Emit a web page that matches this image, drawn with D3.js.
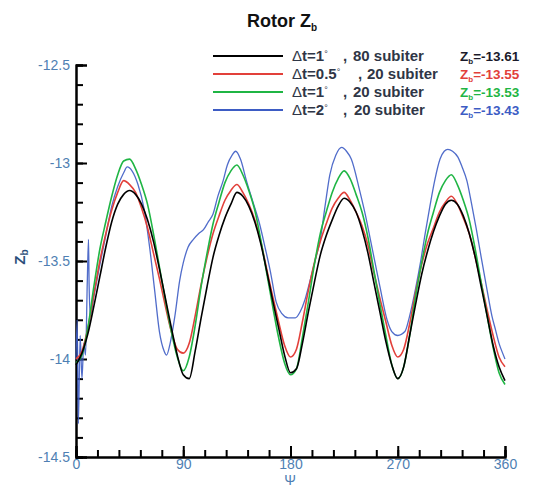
<!DOCTYPE html>
<html>
<head>
<meta charset="utf-8">
<script src="https://cdn.jsdelivr.net/npm/d3@7/dist/d3.min.js"></script>
<style>
  html, body { margin: 0; padding: 0; background: #fff; }
  svg { display: block; }
  text { font-family: "Liberation Sans", Arial, sans-serif; }
</style>
</head>
<body>
<svg id="chart" width="541" height="487"></svg>
<script>
// ---------- data ----------
const psi = [0,5,10,15,20,25,30,35,40,45,50,55,60,65,70,75,80,85,90,95,
  100,105,110,115,120,125,130,135,140,145,150,155,160,165,170,175,180,
  185,190,195,200,205,210,215,220,225,230,235,240,245,250,255,260,265,270,
  275,280,285,290,295,300,305,310,315,320,325,330,335,340,345,350,355,360];

const black80 = [-14.03,-13.97,-13.87,-13.73,-13.58,-13.43,-13.30,-13.21,-13.16,-13.14,
  -13.16,-13.21,-13.29,-13.40,-13.54,-13.69,-13.84,-13.98,-14.08,-14.10,
  -13.96,-13.79,-13.63,-13.48,-13.37,-13.28,-13.21,-13.15,
  -13.17,-13.22,-13.30,-13.41,-13.55,-13.70,-13.84,-13.98,-14.07,
  -14.05,-13.92,-13.76,-13.61,-13.47,-13.37,-13.29,-13.22,-13.18,
  -13.20,-13.25,-13.34,-13.46,-13.61,-13.76,-13.91,-14.03,-14.10,
  -14.04,-13.88,-13.72,-13.57,-13.45,-13.35,-13.27,-13.21,-13.19,
  -13.21,-13.27,-13.36,-13.48,-13.63,-13.78,-13.93,-14.04,-14.11];

const red05 = [-14.00,-13.96,-13.84,-13.67,-13.50,-13.36,-13.24,-13.15,-13.09,-13.11,
  -13.15,-13.23,-13.33,-13.46,-13.59,-13.73,-13.86,-13.95,-13.97,-13.92,
  -13.78,-13.62,-13.48,-13.36,-13.27,-13.19,-13.14,-13.11,
  -13.15,-13.21,-13.29,-13.40,-13.54,-13.68,-13.81,-13.93,-13.99,
  -13.95,-13.81,-13.65,-13.51,-13.40,-13.31,-13.23,-13.18,-13.15,
  -13.19,-13.25,-13.32,-13.42,-13.56,-13.69,-13.81,-13.93,-13.99,
  -13.95,-13.82,-13.66,-13.52,-13.41,-13.33,-13.25,-13.20,-13.17,
  -13.21,-13.28,-13.36,-13.48,-13.61,-13.75,-13.88,-13.99,-14.04];

const green1 = [-14.02,-13.98,-13.84,-13.63,-13.44,-13.30,-13.17,-13.06,-12.99,-12.98,
  -13.03,-13.11,-13.21,-13.36,-13.53,-13.70,-13.86,-13.99,-14.06,-13.99,
  -13.83,-13.63,-13.46,-13.31,-13.20,-13.10,-13.04,-13.01,
  -13.06,-13.14,-13.24,-13.39,-13.56,-13.73,-13.89,-14.02,-14.08,
  -14.05,-13.89,-13.71,-13.52,-13.36,-13.25,-13.15,-13.08,-13.04,
  -13.08,-13.16,-13.25,-13.38,-13.55,-13.72,-13.88,-14.03,-14.10,
  -14.04,-13.88,-13.68,-13.51,-13.36,-13.25,-13.15,-13.09,-13.06,
  -13.11,-13.19,-13.29,-13.44,-13.61,-13.78,-13.94,-14.07,-14.13];

const psiBlue = [0,1,2,3.5,5,6.5,8,9.5,10.5,11,12,15,20,25,30,35,40,43,47,52,57,62,66,70,74,76,79,83,87,90,
  94,98.5,103,107,111,115,119,123.5,127,131,134,138,143,148,154,159,163,168,173,178,184,188,192,196,201,205,
  209,213,218,223,227,231,238,243,247,251,255,261,265,270,276,280,285,289,293,297,301,305.5,309,312,316,
  320.5,324,328,332,336,340,345,349,352,355,358,360];
const blue2 = [-14.00,-13.80,-14.33,-13.88,-14.10,-13.92,-13.98,-13.60,-13.39,-13.62,-13.78,-13.68,-13.52,
  -13.37,-13.22,-13.12,-13.05,-13.02,-13.04,-13.11,-13.23,-13.44,-13.65,-13.86,-13.96,-13.98,-13.92,-13.78,
  -13.60,-13.51,-13.43,-13.39,-13.36,-13.34,-13.30,-13.26,-13.17,-13.09,-13.01,-12.96,-12.94,-12.98,-13.09,
  -13.19,-13.31,-13.44,-13.55,-13.71,-13.77,-13.79,-13.79,-13.76,-13.70,-13.61,-13.49,-13.39,-13.22,-13.06,
  -12.96,-12.92,-12.94,-12.98,-13.14,-13.27,-13.39,-13.51,-13.63,-13.80,-13.86,-13.88,-13.86,-13.78,-13.64,
  -13.51,-13.36,-13.22,-13.09,-12.98,-12.94,-12.93,-12.94,-12.97,-13.02,-13.09,-13.21,-13.34,-13.48,-13.65,
  -13.78,-13.85,-13.92,-13.97,-14.00];

const stepLabels = ["\u0394t=1\u00b0", "\u0394t=0.5\u00b0", "\u0394t=1\u00b0", "\u0394t=2\u00b0"];
const subiterLabels = ["80 subiter", "20 subiter", "20 subiter", "20 subiter"];
const zbValues = ["-13.61", "-13.55", "-13.53", "-13.43"];
const seriesColors = ["#000000", "#e2403a", "#1fb544", "#3d5cc4"];
const xTicks = [0, 90, 180, 270, 360];
const yTicks = [-12.5, -13, -13.5, -14, -14.5];

// ---------- layout ----------
const svg = d3.select("#chart");
const x = d3.scaleLinear().domain([0, 360]).range([76, 505]);
const y = d3.scaleLinear().domain([-14.5, -12.5]).range([457, 65]);
const tickColor = "#4f7fb3";

const xAxis = d3.axisBottom(x).tickValues(xTicks).tickSize(-11).tickFormat(d3.format("d")).tickPadding(2);
const xMinor = d3.axisBottom(x).tickValues(d3.range(0, 361, 18)).tickSize(-7).tickFormat("");
const yAxis = d3.axisLeft(y).tickValues(yTicks).tickSize(-11).tickFormat(d => String(d)).tickPadding(6);
const yMinor = d3.axisLeft(y).tickValues(d3.range(0, 21).map(i => -12.5 - i * 0.1)).tickSize(-7).tickFormat("");

function styleAxis(g) {
  g.select(".domain").attr("stroke", "#000").attr("stroke-width", 2);
  g.selectAll(".tick line").attr("stroke", "#000").attr("stroke-width", 2);
  g.selectAll(".tick text").attr("fill", tickColor).attr("font-size", 14)
    .attr("font-family", "Liberation Sans, Arial, sans-serif");
}
svg.append("g").attr("transform", "translate(0,457)").call(xMinor).call(styleAxis);
svg.append("g").attr("transform", "translate(0,457)").call(xAxis).call(styleAxis);
svg.append("g").attr("transform", "translate(76,0)").call(yMinor).call(styleAxis);
svg.append("g").attr("transform", "translate(76,0)").call(yAxis).call(styleAxis);

// axis titles
svg.append("text").attr("x", 290).attr("y", 485).attr("text-anchor", "middle")
  .attr("font-size", 14).attr("fill", tickColor).text("\u03a8");
const yt = svg.append("text").attr("transform", "translate(25,257) rotate(-90)")
  .attr("text-anchor", "middle").attr("font-size", 15).attr("font-weight", "bold").attr("fill", "#2b4f7a");
yt.append("tspan").text("Z");
yt.append("tspan").attr("font-size", 10).attr("dy", 3).text("b");

// title
const tt = svg.append("text").attr("x", 247).attr("y", 27).attr("font-size", 18)
  .attr("font-weight", "bold").attr("fill", "#111");
tt.append("tspan").text("Rotor Z");
tt.append("tspan").attr("font-size", 10).attr("dy", 4).text("b");

// lines
const line = d3.line().x(d => x(d[0])).y(d => y(d[1])).curve(d3.curveMonotoneX);
const seriesData = [
  psi.map((p, i) => [p, black80[i]]),
  psi.map((p, i) => [p, red05[i]]),
  psi.map((p, i) => [p, green1[i]]),
  psiBlue.map((p, i) => [p, blue2[i]])
];
[3, 1, 2, 0].forEach(i => {
  svg.append("path").datum(seriesData[i]).attr("d", line)
    .attr("fill", "none").attr("stroke", seriesColors[i])
    .attr("stroke-width", i === 3 ? 1.3 : 1.6)
    .attr("stroke-opacity", i === 3 ? 0.9 : 1);
});

// legend
const legY = [56, 74, 92, 110];
const commaX = [343, 358, 343, 343];
const subX = [353, 367, 353, 354];
stepLabels.forEach((lab, i) => {
  const yy = legY[i] + 5;
  svg.append("line").attr("x1", 213).attr("x2", 283).attr("y1", legY[i]).attr("y2", legY[i])
    .attr("stroke", seriesColors[i]).attr("stroke-width", 2);
  const st = svg.append("text").attr("x", 292).attr("y", yy).attr("font-size", 15)
    .attr("font-weight", "bold").attr("fill", "#2f3646");
  st.append("tspan").attr("font-weight", "normal").text(lab.charAt(0));
  st.append("tspan").text(lab.slice(1, -1));
  st.append("tspan").attr("font-size", 9).attr("font-weight", "normal").attr("dy", -4).text("\u00b0");
  svg.append("text").attr("x", commaX[i]).attr("y", yy).attr("font-size", 15)
    .attr("font-weight", "bold").attr("fill", "#2f3646").text(",");
  svg.append("text").attr("x", subX[i]).attr("y", yy).attr("font-size", 15)
    .attr("font-weight", "bold").attr("fill", "#2f3646").text(subiterLabels[i]);
  const zt = svg.append("text").attr("x", 460).attr("y", yy).attr("font-size", 13.5)
    .attr("font-weight", "bold").attr("fill", i === 0 ? "#1a1a2a" : seriesColors[i]);
  zt.append("tspan").text("Z");
  zt.append("tspan").attr("font-size", 8).attr("dy", 3).text("b");
  zt.append("tspan").attr("dy", -3).text("=" + zbValues[i]);
});
</script>
</body>
</html>
